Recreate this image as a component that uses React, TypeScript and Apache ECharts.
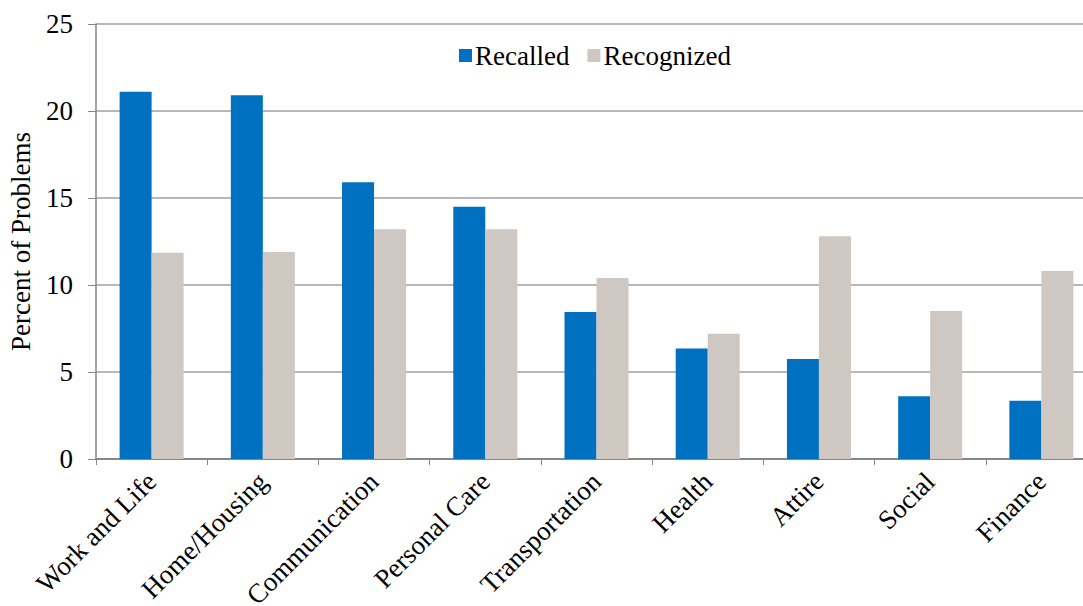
import React, { useEffect, useRef } from "react";
import * as echarts from "echarts";

// Problem categories and the share of problems in each (percent)
const categories = [
  "Work and Life",
  "Home/Housing",
  "Communication",
  "Personal Care",
  "Transportation",
  "Health",
  "Attire",
  "Social",
  "Finance",
];
const recalled = [21.1, 20.9, 15.9, 14.5, 8.45, 6.35, 5.75, 3.6, 3.35];
const recognized = [11.85, 11.9, 13.2, 13.2, 10.4, 7.2, 12.8, 8.5, 10.8];
const yTicks = { min: 0, max: 25, interval: 5 };

const FONT = "'Liberation Serif', 'Times New Roman', serif";
const FS = 27;

export default function App() {
  const ref = useRef<HTMLDivElement>(null);

  useEffect(() => {
    if (!ref.current) return;
    const chart = echarts.init(ref.current, undefined, { renderer: "svg" });
    chart.setOption({
      animation: false,
      backgroundColor: "#ffffff",
      textStyle: { fontFamily: FONT, color: "#000" },
      grid: {
        left: 96,
        width: 1001,
        top: 24,
        height: 435,
        containLabel: false,
        outerBoundsMode: "none",
      },
      legend: {
        top: 37,
        left: 454,
        itemWidth: 13,
        itemHeight: 13,
        itemGap: 18,
        icon: "rect",
        textStyle: { fontFamily: FONT, fontSize: FS, color: "#000", padding: [0, 0, 0, -2] },
        data: ["Recalled", "Recognized"],
      },
      xAxis: {
        type: "category",
        data: categories,
        axisLine: { lineStyle: { color: "#868686", width: 2 } },
        axisTick: { show: true, length: 6, alignWithLabel: false, lineStyle: { color: "#868686", width: 1 } },
        axisLabel: {
          rotate: 45,
          margin: 18,
          fontFamily: FONT,
          fontSize: FS,
          color: "#000",
          interval: 0,
        },
      },
      yAxis: {
        type: "value",
        min: yTicks.min,
        max: yTicks.max,
        interval: yTicks.interval,
        name: "Percent of Problems",
        nameLocation: "middle",
        nameGap: 62,
        nameTextStyle: { fontFamily: FONT, fontSize: FS, color: "#000" },
        axisLine: { show: true, lineStyle: { color: "#868686", width: 1.5 } },
        axisTick: { show: true, length: 8, lineStyle: { color: "#868686", width: 1 } },
        axisLabel: { margin: 23, fontFamily: FONT, fontSize: FS, color: "#000" },
        splitLine: { lineStyle: { color: "#A0A0A0", width: 1.5 } },
      },
      series: [
        {
          name: "Recalled",
          type: "bar",
          data: recalled,
          barWidth: 32,
          barGap: "0%",
          itemStyle: { color: "#0070C0" },
        },
        {
          name: "Recognized",
          type: "bar",
          data: recognized,
          barWidth: 32,
          itemStyle: { color: "#CFC7C1" },
        },
      ],
    });
    return () => chart.dispose();
  }, []);

  return (
    <div
      style={{
        position: "fixed",
        left: 0,
        top: 0,
        width: 1083,
        height: 606,
        overflow: "hidden",
        background: "#fff",
      }}
    >
      <div ref={ref} style={{ width: 1083, height: 606 }} />
    </div>
  );
}
